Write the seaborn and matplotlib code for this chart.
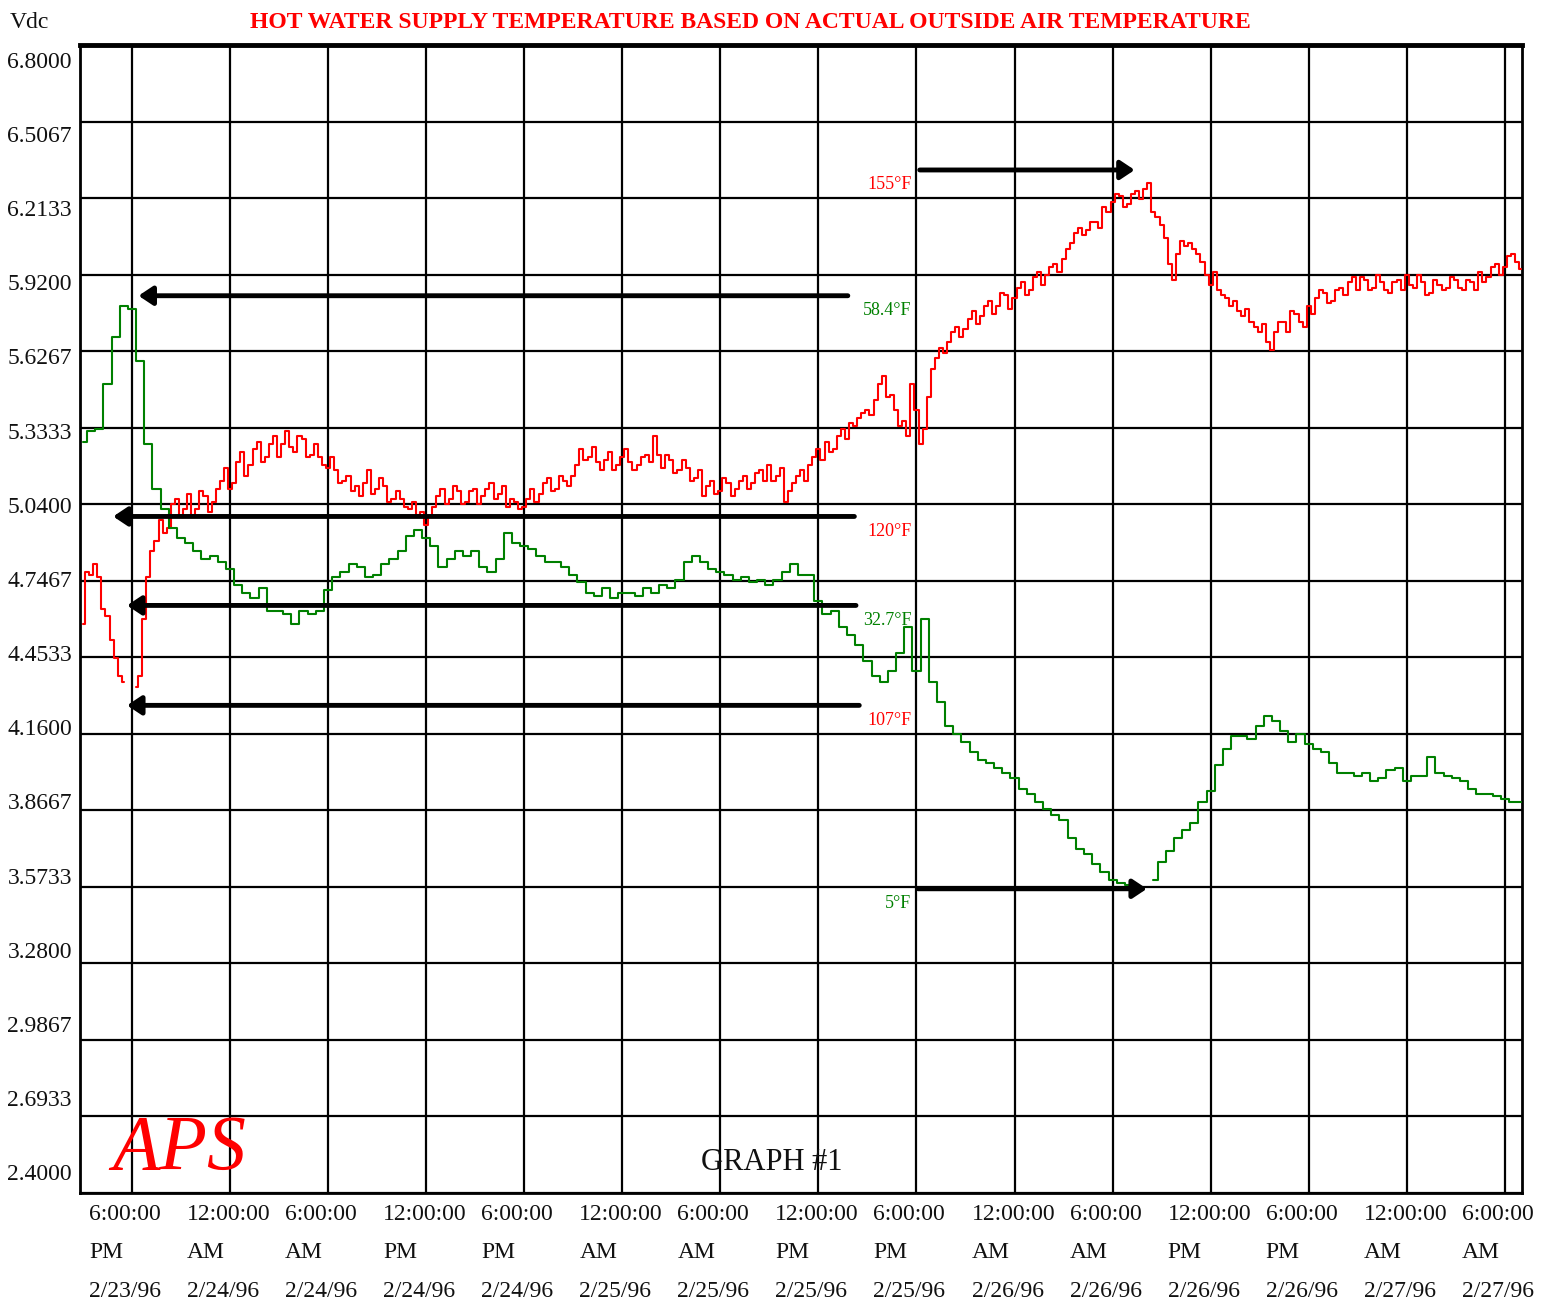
import numpy as np
import pandas as pd
import matplotlib
matplotlib.use("Agg")
import matplotlib.pyplot as plt
import seaborn as sns

# Logger sample clocks: hours after 6:00 PM 2/23/96
hot_water_hours = np.arange(-3.0, 85.01, 0.25)    # every 15 minutes
outside_air_hours = np.arange(-3.0, 85.01, 0.5)   # every 30 minutes

# Hot water supply temperature sensor output (Vdc); NaN marks a dropout
hot_water_vdc = [
    4.58, 4.78, 4.77, 4.81, 4.76, 4.64, 4.61, 4.52, 4.45, 4.38, 4.36, np.nan,
    np.nan, 4.34, 4.38, 4.60, 4.76, 4.86, 4.90, 4.98, 4.93, 4.95, 5.04, 5.06,
    4.99, 5.02, 5.08, 5.00, 5.02, 5.09, 5.07, 5.01, 5.05, 5.10, 5.13, 5.18,
    5.10, 5.12, 5.20, 5.24, 5.15, 5.19, 5.25, 5.28, 5.20, 5.22, 5.27, 5.30,
    5.22, 5.27, 5.32, 5.26, 5.24, 5.30, 5.29, 5.22, 5.23, 5.27, 5.22, 5.19,
    5.18, 5.22, 5.17, 5.12, 5.13, 5.15, 5.09, 5.11, 5.07, 5.12, 5.17, 5.08,
    5.10, 5.14, 5.11, 5.05, 5.06, 5.09, 5.06, 5.03, 5.02, 5.05, 5.00, 5.01,
    4.96, 4.99, 5.03, 5.07, 5.10, 5.04, 5.06, 5.11, 5.09, 5.04, 5.05, 5.09,
    5.10, 5.04, 5.07, 5.10, 5.12, 5.06, 5.08, 5.11, 5.03, 5.06, 5.05, 5.02,
    5.03, 5.06, 5.10, 5.05, 5.08, 5.12, 5.14, 5.09, 5.10, 5.15, 5.13, 5.11,
    5.15, 5.19, 5.25, 5.21, 5.22, 5.26, 5.20, 5.17, 5.21, 5.24, 5.17, 5.19,
    5.22, 5.25, 5.20, 5.17, 5.19, 5.22, 5.23, 5.20, 5.30, 5.23, 5.18, 5.23,
    5.21, 5.16, 5.17, 5.21, 5.18, 5.13, 5.14, 5.17, 5.07, 5.11, 5.13, 5.08,
    5.09, 5.14, 5.12, 5.07, 5.10, 5.13, 5.15, 5.10, 5.12, 5.16, 5.17, 5.13,
    5.19, 5.13, 5.15, 5.18, 5.05, 5.09, 5.12, 5.15, 5.17, 5.13, 5.19, 5.22,
    5.25, 5.21, 5.28, 5.24, 5.25, 5.30, 5.33, 5.29, 5.35, 5.34, 5.37, 5.39,
    5.40, 5.38, 5.44, 5.50, 5.53, 5.45, 5.46, 5.40, 5.34, 5.36, 5.30, 5.50,
    5.40, 5.27, 5.33, 5.45, 5.56, 5.60, 5.64, 5.62, 5.66, 5.70, 5.72, 5.68,
    5.71, 5.75, 5.78, 5.73, 5.76, 5.80, 5.82, 5.77, 5.80, 5.85, 5.84, 5.79,
    5.83, 5.87, 5.89, 5.84, 5.86, 5.91, 5.93, 5.88, 5.92, 5.95, 5.96, 5.93,
    5.98, 6.02, 6.04, 6.08, 6.10, 6.07, 6.09, 6.12, 6.12, 6.10, 6.18, 6.16,
    6.20, 6.23, 6.22, 6.18, 6.19, 6.23, 6.24, 6.21, 6.25, 6.27, 6.16, 6.14,
    6.11, 6.06, 5.96, 5.90, 6.00, 6.05, 6.03, 6.04, 6.02, 6.00, 5.97, 5.92,
    5.88, 5.93, 5.86, 5.84, 5.83, 5.80, 5.82, 5.78, 5.76, 5.79, 5.74, 5.72,
    5.70, 5.73, 5.66, 5.63, 5.70, 5.74, 5.74, 5.70, 5.78, 5.77, 5.74, 5.72,
    5.80, 5.77, 5.83, 5.86, 5.85, 5.81, 5.82, 5.86, 5.87, 5.84, 5.89, 5.91,
    5.86, 5.91, 5.90, 5.86, 5.87, 5.92, 5.89, 5.86, 5.85, 5.89, 5.90, 5.86,
    5.92, 5.88, 5.87, 5.92, 5.89, 5.84, 5.85, 5.90, 5.88, 5.86, 5.87, 5.91,
    5.90, 5.87, 5.86, 5.90, 5.89, 5.86, 5.93, 5.89, 5.91, 5.95, 5.96, 5.92,
    5.95, 5.99, 6.00, 5.97, 5.94,
]

# Outside air temperature sensor output (Vdc)
outside_air_vdc = [
    5.28, 5.32, 5.33, 5.50, 5.68, 5.80, 5.79, 5.59, 5.27, 5.10, 5.02, 4.95,
    4.91, 4.89, 4.86, 4.83, 4.84, 4.82, 4.79, 4.73, 4.70, 4.68, 4.72, 4.63,
    4.63, 4.62, 4.58, 4.63, 4.62, 4.63, 4.71, 4.76, 4.78, 4.81, 4.80, 4.76,
    4.77, 4.81, 4.83, 4.86, 4.92, 4.94, 4.91, 4.88, 4.80, 4.83, 4.86, 4.84,
    4.86, 4.80, 4.78, 4.83, 4.93, 4.89, 4.88, 4.87, 4.84, 4.82, 4.82, 4.80,
    4.77, 4.74, 4.70, 4.69, 4.72, 4.68, 4.70, 4.70, 4.69, 4.72, 4.70, 4.73,
    4.72, 4.75, 4.82, 4.84, 4.82, 4.79, 4.78, 4.77, 4.75, 4.76, 4.74, 4.75,
    4.73, 4.75, 4.78, 4.81, 4.77, 4.77, 4.67, 4.62, 4.63, 4.57, 4.54, 4.50,
    4.44, 4.38, 4.36, 4.40, 4.47, 4.57, 4.40, 4.60, 4.36, 4.28, 4.19, 4.16,
    4.13, 4.09, 4.06, 4.05, 4.03, 4.01, 3.99, 3.95, 3.93, 3.90, 3.87, 3.85,
    3.83, 3.76, 3.72, 3.70, 3.66, 3.63, 3.60, 3.59, 3.58, 3.575, np.nan, 3.60,
    3.67, 3.71, 3.76, 3.79, 3.82, 3.90, 3.94, 4.04, 4.10, 4.15, 4.15, 4.14,
    4.19, 4.23, 4.21, 4.17, 4.13, 4.16, 4.12, 4.10, 4.09, 4.05, 4.01, 4.01,
    4.00, 4.01, 3.98, 3.99, 4.02, 4.03, 3.98, 4.00, 4.00, 4.07, 4.01, 4.00,
    3.99, 3.98, 3.95, 3.93, 3.93, 3.92, 3.91, 3.90, 3.90,
]

y_ticks = [6.8, 6.5067, 6.2133, 5.92, 5.6267, 5.3333, 5.04, 4.7467,
           4.4533, 4.16, 3.8667, 3.5733, 3.28, 2.9867, 2.6933, 2.4]
y_tick_labels = ["6.8000", "6.5067", "6.2133", "5.9200", "5.6267", "5.3333",
                 "5.0400", "4.7467", "4.4533", "4.1600", "3.8667", "3.5733",
                 "3.2800", "2.9867", "2.6933", "2.4000"]

x_tick_hours = [0, 6, 12, 18, 24, 30, 36, 42, 48, 54, 60, 66, 72, 78, 84]
x_tick_labels = [
    "6:00:00\nPM\n2/23/96", "12:00:00\nAM\n2/24/96", "6:00:00\nAM\n2/24/96",
    "12:00:00\nPM\n2/24/96", "6:00:00\nPM\n2/24/96", "12:00:00\nAM\n2/25/96",
    "6:00:00\nAM\n2/25/96", "12:00:00\nPM\n2/25/96", "6:00:00\nPM\n2/25/96",
    "12:00:00\nAM\n2/26/96", "6:00:00\nAM\n2/26/96", "12:00:00\nPM\n2/26/96",
    "6:00:00\nPM\n2/26/96", "12:00:00\nAM\n2/27/96", "6:00:00\nAM\n2/27/96",
]

# Reference temperatures marked with arrows
marker_labels = ["58.4°F", "155°F", "120°F", "32.7°F", "107°F", "5°F"]
marker_vdc = [5.839, 6.321, 4.993, 4.652, 4.269, 3.566]
marker_from_hours = [43.8, 48.2, 44.2, 44.3, 44.5, 48.1]
marker_to_hours = [0.4, 61.35, -1.15, -0.3, -0.3, 62.1]
marker_colors = ["#008000", "#ff0000", "#ff0000", "#008000", "#ff0000", "#008000"]

RED = "#ff0000"
GREEN = "#008000"
INK = "#111111"

sns.set_theme(style="white")
plt.rcParams["font.family"] = ["Liberation Serif", "DejaVu Serif"]

# Long-form table; each uninterrupted run of readings is its own unit
frames = []
for name, hrs, vals in [("hot water", hot_water_hours, hot_water_vdc),
                        ("outside air", outside_air_hours, outside_air_vdc)]:
    v = np.asarray(vals, dtype=float)
    piece = np.cumsum(np.isnan(v))
    df = pd.DataFrame({
        "hours": hrs,
        "vdc": v,
        "series": name,
        "piece": [f"{name}-{p}" for p in piece],
    })
    frames.append(df.dropna())
data = pd.concat(frames, ignore_index=True)

fig = plt.figure(figsize=(15.54, 13.11), dpi=100)
ax = fig.add_axes([80 / 1554, 1 - 1193 / 1311, 1442 / 1554, 1148 / 1311])

sns.lineplot(
    data=data, x="hours", y="vdc", hue="series", units="piece",
    estimator=None, palette={"hot water": RED, "outside air": GREEN},
    legend=False, lw=1.5, drawstyle="steps-mid", ax=ax, zorder=3,
)

ax.set_xlim(-3.18, 85.05)
ax.set_ylim(2.4, 6.8)
ax.set_xlabel("")
ax.set_ylabel("")

ax.set_xticks(x_tick_hours)
ax.set_xticklabels([])
ax.set_yticks(y_ticks)
ax.set_yticklabels([])
ax.tick_params(axis="both", length=0)

ax.grid(True, color="black", lw=1.6)
ax.set_axisbelow(True)
for side, spine in ax.spines.items():
    spine.set_visible(True)
    spine.set_color("black")
    spine.set_linewidth(3.5 if side == "top" else 2.0)

# Time labels: three left-aligned lines starting a little left of each gridline
for h, lbl in zip(x_tick_hours, x_tick_labels):
    ax.annotate(lbl, xy=(h, 0), xycoords=ax.get_xaxis_transform(),
                xytext=(-43, -11), textcoords="offset pixels",
                ha="left", va="top", fontsize=17, linespacing=2.08,
                color=INK, annotation_clip=False)

# Voltage labels sit just under their gridlines at the top, drifting above them toward the bottom
n = len(y_ticks) - 1
for i, (v, lbl) in enumerate(zip(y_ticks, y_tick_labels)):
    ax.annotate(lbl, xy=(0, v), xycoords=ax.get_yaxis_transform(),
                xytext=(-8, -(17 - 35 * i / n)), textcoords="offset pixels",
                ha="right", va="center", fontsize=17, color=INK,
                annotation_clip=False)

# Arrows and temperature callouts
for lbl, v, x0, x1, c in zip(marker_labels, marker_vdc, marker_from_hours,
                              marker_to_hours, marker_colors):
    ax.annotate("", xy=(x1, v), xytext=(x0, v),
                arrowprops=dict(arrowstyle="-|>,head_length=0.6,head_width=0.4",
                                color="black", lw=3.5, shrinkA=0, shrinkB=0,
                                mutation_scale=14),
                zorder=4)
    ax.annotate(lbl, xy=(47.7, v), xytext=(0, -15), textcoords="offset pixels",
                ha="right", va="center", fontsize=13, color=c, zorder=5)

fig.text(10 / 1554, 1 - 22 / 1311, "Vdc", ha="left", va="center",
         fontsize=17, color=INK)
fig.text(750 / 1554, 1 - 22 / 1311,
         "HOT WATER SUPPLY TEMPERATURE BASED ON ACTUAL OUTSIDE AIR TEMPERATURE",
         ha="center", va="center", fontsize=17, fontweight="bold", color=RED)

fig.text(112 / 1554, 1 - 1150 / 1311, "APS", ha="left", va="center",
         fontsize=56, fontstyle="italic", color=RED)
fig.text(772 / 1554, 1 - 1162 / 1311, "GRAPH #1", ha="center", va="center",
         fontsize=22, color=INK)

fig.savefig("out.png", dpi=100, facecolor="white")
